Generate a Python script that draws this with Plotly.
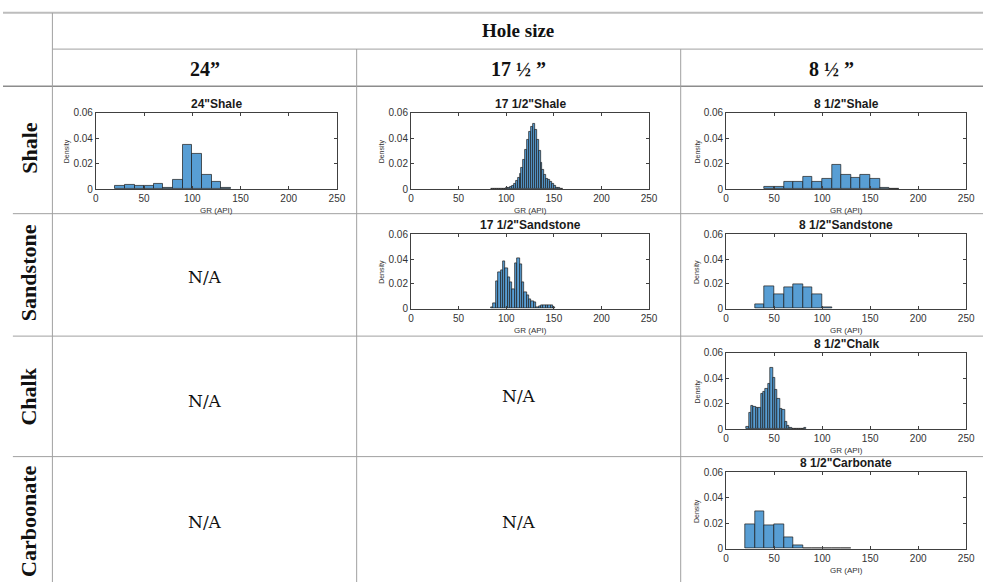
import numpy as np
import plotly.graph_objects as go

W, H = 992, 588

# ---- table text ----
hole_sizes = ["24”", "17 ½ ”", "8 ½ ”"]
lithologies = ["Shale", "Sandstone", "Chalk", "Carboonate"]

# ---- GR histograms (density per bin) ----
shale_24_start, shale_24_width = 20, 10
shale_24_density = [0.003, 0.0035, 0.003, 0.0025, 0.004, 0.0015, 0.0075,
                    0.035, 0.028, 0.011, 0.0055, 0.001]

shale_175_start, shale_175_width = 84, 2
shale_175_density = [0.0004, 0.0002, 0.0, 0.0001, 0.0002, 0.0003, 0.0005, 0.0007,
                     0.001, 0.0015, 0.002, 0.003, 0.0045, 0.0065, 0.009, 0.012,
                     0.017, 0.023, 0.031, 0.039, 0.045, 0.049, 0.051, 0.047,
                     0.039, 0.030, 0.021, 0.015, 0.011, 0.0085, 0.007, 0.006,
                     0.004, 0.0025, 0.0015, 0.0008, 0.0004, 0.0002]

shale_85_start, shale_85_width = 40, 10
shale_85_density = [0.002, 0.002, 0.006, 0.0055, 0.0095, 0.006, 0.0085, 0.019,
                    0.0115, 0.009, 0.011, 0.0085, 0.0015, 0.0005]

sand_175_start, sand_175_width = 84, 2.5
sand_175_density = [0.001, 0.004, 0.022, 0.029, 0.031, 0.038, 0.033, 0.025,
                    0.021, 0.016, 0.037, 0.041, 0.036, 0.021, 0.013, 0.011,
                    0.008, 0.006, 0.005, 0.0015, 0.002, 0.003, 0.003, 0.003,
                    0.0028, 0.0025, 0.001]

sand_85_start, sand_85_width = 30, 10
sand_85_density = [0.0035, 0.018, 0.0115, 0.0175, 0.0195, 0.0175, 0.012, 0.0015]

chalk_85_start, chalk_85_width = 21, 2.5
chalk_85_density = [0.002, 0.0125, 0.0185, 0.0175, 0.0165, 0.0165, 0.0275, 0.029,
                    0.0315, 0.0355, 0.048, 0.040, 0.031, 0.0235, 0.016, 0.0155,
                    0.0055, 0.0025, 0.0013, 0.0005, 0.0003, 0.0, 0.0003, 0.0004,
                    0.0008]

carb_85_start, carb_85_width = 20, 10
carb_85_density = [0.0195, 0.0295, 0.0185, 0.0195, 0.009, 0.0025, 0.0005, 0.0005,
                   0.0003, 0.0, 0.0005]

x_ticks = [0, 50, 100, 150, 200, 250]
y_ticks = [0, 0.02, 0.04, 0.06]

# panel: title, data, column index, row index
panels = [
    ('24"Shale', shale_24_start, shale_24_width, shale_24_density, 0, 0),
    ('17 1/2"Shale', shale_175_start, shale_175_width, shale_175_density, 1, 0),
    ('8 1/2"Shale', shale_85_start, shale_85_width, shale_85_density, 2, 0),
    ('17 1/2"Sandstone', sand_175_start, sand_175_width, sand_175_density, 1, 1),
    ('8 1/2"Sandstone', sand_85_start, sand_85_width, sand_85_density, 2, 1),
    ('8 1/2"Chalk', chalk_85_start, chalk_85_width, chalk_85_density, 2, 2),
    ('8 1/2"Carbonate', carb_85_start, carb_85_width, carb_85_density, 2, 3),
]

# plot-area pixel boxes
col_x = [(94, 338), (413, 654), (732, 975)]
row_y = [(109, 187), (233, 309), (354, 432), (476, 554)]


def px(x):
    return x / W


def py(y):
    return 1 - y / H


fig = go.Figure()
annotations = []
shapes = []

BAR = "rgb(88,158,212)"
AX = "#404040"
SANS = "Liberation Sans, Arial, sans-serif"
SERIF_B = "Liberation Serif, Times New Roman, serif"
SERIF = "DejaVu Serif, serif"


def label(text, x, y, family, size, color="#111111", angle=0):
    annotations.append(dict(text=text, x=px(x), y=py(y), xref="paper",
                            yref="paper", showarrow=False, textangle=angle,
                            xanchor="center", yanchor="middle",
                            font=dict(family=family, size=size, color=color)))


for i, (title, start, bw, dens, c, r) in enumerate(panels, start=1):
    edges = start + bw * np.arange(len(dens))
    xa = "x" if i == 1 else f"x{i}"
    ya = "y" if i == 1 else f"y{i}"
    fig.add_trace(go.Bar(
        x=edges, y=dens, width=bw, offset=0,
        marker=dict(color=BAR, line=dict(color="#1a1a1a", width=0.7)),
        xaxis=xa, yaxis=ya, showlegend=False, hoverinfo="skip",
    ))
    x0, x1 = col_x[c]
    y0, y1 = row_y[r]
    axis_common = dict(showgrid=False, zeroline=False, showline=True,
                       linecolor=AX, linewidth=1, mirror="allticks",
                       ticks="inside", ticklen=3, tickcolor=AX,
                       tickfont=dict(family=SANS, size=10, color="#333333"))
    fig.layout[f"xaxis{'' if i == 1 else i}"] = dict(
        domain=[px(x0), px(x1)], anchor=ya, range=[0, 250],
        tickvals=x_ticks, **axis_common)
    fig.layout[f"yaxis{'' if i == 1 else i}"] = dict(
        domain=[py(y1), py(y0)], anchor=xa, range=[0, 0.06],
        tickvals=y_ticks, ticktext=["0", "0.02", "0.04", "0.06"],
        **axis_common)
    xm = (x0 + x1) / 2
    label(f"<b>{title}</b>", xm, y0 - 9, SANS, 12, "#1a1a1a")
    label("GR (API)", xm, y1 + 22, SANS, 8, "#333333")
    label("Density", x0 - 29, (y0 + y1) / 2, SANS, 7, "#333333", -90)


# ---- table grid ----
def hline(y, xa, xb, color="#a0a0a0", w=1):
    shapes.append(dict(type="line", xref="paper", yref="paper",
                       x0=px(xa), x1=px(xb), y0=py(y), y1=py(y),
                       line=dict(color=color, width=w)))


def vline(x, ya, yb, color="#a0a0a0", w=1):
    shapes.append(dict(type="line", xref="paper", yref="paper",
                       x0=px(x), x1=px(x), y0=py(ya), y1=py(yb),
                       line=dict(color=color, width=w)))


hline(7, 0, W, "#bdbdbd", 2)
hline(44, 50, W)
hline(82, 0, W, "#8c8c8c", 1.5)
for y in (212, 337, 460):
    hline(y, 10, W)
vline(50, 7, H)
vline(358, 44, H)
vline(686, 44, H)

# ---- header text ----
label("<b>Hole size</b>", 521, 25, SERIF_B, 19)
for cx, txt in zip((204, 522, 839), hole_sizes):
    label(f"<b>{txt}</b>", cx, 64, SERIF_B, 20)

for cy, txt in zip((145, 272, 399, 526), lithologies):
    label(f"<b>{txt}</b>", 26, cy, SERIF_B, 22, angle=-90)

# empty cells
for cx, cy in [(204, 277), (204, 403), (522, 398), (204, 527), (522, 527)]:
    label("N/A", cx, cy, SERIF, 17)

fig.update_layout(width=W, height=H, margin=dict(l=0, r=0, t=0, b=0),
                  paper_bgcolor="white", plot_bgcolor="white",
                  annotations=annotations, shapes=shapes, bargap=0)

fig.write_html("out.html")
